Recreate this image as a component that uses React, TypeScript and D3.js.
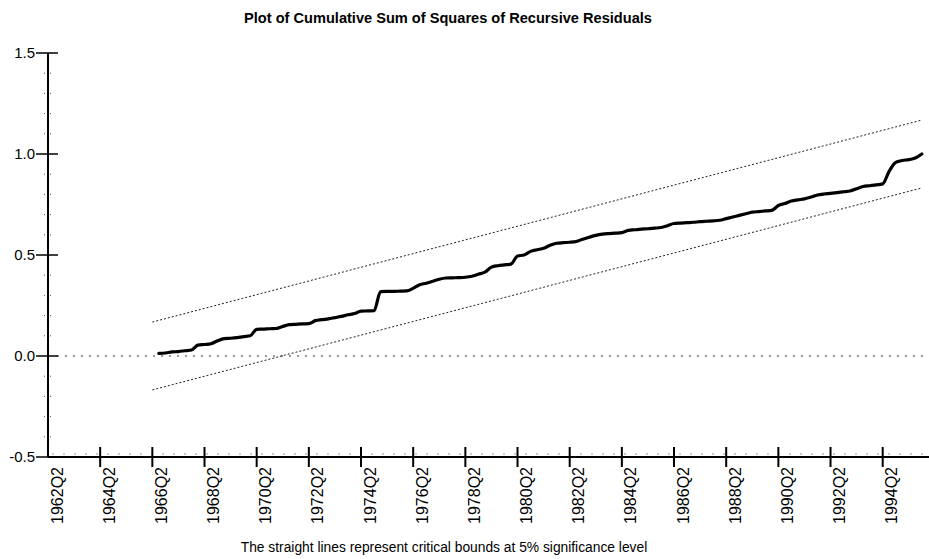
import React, { useEffect, useRef } from "react";
import * as d3 from "d3";

// quarterly tick labels on the x axis
const tickLabels = [
  "1962Q2", "1964Q2", "1966Q2", "1968Q2", "1970Q2", "1972Q2", "1974Q2", "1976Q2", "1978Q2",
  "1980Q2", "1982Q2", "1984Q2", "1986Q2", "1988Q2", "1990Q2", "1992Q2", "1994Q2",
];
const yTicks = [-0.5, 0.0, 0.5, 1.0, 1.5];

// cumulative sum of squares, one value per quarter starting 1966Q3
const seriesStart = "1966Q3";
const cusumsq = [
  0.013, 0.015, 0.02, 0.022, 0.026, 0.03, 0.054, 0.057, 0.061, 0.075, 0.086, 0.088, 0.091, 0.096, 0.1,
  0.132, 0.133, 0.135, 0.136, 0.146, 0.155, 0.157, 0.159, 0.16, 0.175, 0.18, 0.184, 0.19, 0.196, 0.204,
  0.21, 0.222, 0.223, 0.224, 0.319, 0.32, 0.32, 0.321, 0.322, 0.335, 0.353, 0.36, 0.37, 0.38, 0.386,
  0.387, 0.388, 0.39, 0.395, 0.405, 0.415, 0.44, 0.447, 0.451, 0.455, 0.495, 0.5, 0.518, 0.526, 0.533,
  0.548, 0.558, 0.561, 0.563, 0.567, 0.578, 0.588, 0.597, 0.603, 0.606, 0.608, 0.611, 0.622, 0.625,
  0.628, 0.63, 0.633, 0.636, 0.645, 0.656, 0.658, 0.66, 0.662, 0.665, 0.667, 0.669, 0.672, 0.68, 0.688,
  0.696, 0.704, 0.712, 0.715, 0.718, 0.721, 0.745, 0.755, 0.767, 0.773, 0.778, 0.787, 0.797, 0.802,
  0.805, 0.809, 0.813, 0.817, 0.828, 0.839, 0.843, 0.847, 0.852, 0.915, 0.958, 0.968, 0.972, 0.98, 1.0,
];

// 5% critical bounds (straight lines)
const boundDates = ["1966Q2", "1995Q4"];
const upperBound = [0.168, 1.168];
const lowerBound = [-0.168, 0.832];

const title = "Plot of Cumulative Sum of Squares of Recursive Residuals";
const footnote = "The straight lines represent critical bounds at 5% significance level";

const W = 929;
const H = 559;
const font = "'Liberation Sans', Arial, sans-serif";

// quarters since 1962Q2
const qIndex = (s: string) => {
  const year = +s.slice(0, 4);
  const q = +s.slice(5);
  return (year - 1962) * 4 + (q - 2);
};

const App = () => {
  const ref = useRef<SVGSVGElement>(null);

  useEffect(() => {
    const svg = d3.select(ref.current);
    svg.selectAll("*").remove();

    const x = d3.scaleLinear().domain([0, 135.1]).range([48, 929]);
    const y = d3.scaleLinear().domain([-0.5, 1.5]).range([457, 53]);

    // title
    svg
      .append("text")
      .attr("x", 448)
      .attr("y", 23)
      .attr("text-anchor", "middle")
      .style("font-family", font)
      .style("font-weight", "bold")
      .style("font-size", "14.6px")
      .text(title);

    // footnote
    svg
      .append("text")
      .attr("x", 444)
      .attr("y", 552)
      .attr("text-anchor", "middle")
      .style("font-family", font)
      .style("font-size", "13.8px")
      .text(footnote);

    // zero reference line
    svg
      .append("line")
      .attr("x1", 57)
      .attr("x2", W)
      .attr("y1", y(0))
      .attr("y2", y(0))
      .attr("stroke", "#333")
      .attr("stroke-width", 1)
      .attr("stroke-dasharray", "2,6");

    // faint dotted line just above the x axis
    svg
      .append("line")
      .attr("x1", 52)
      .attr("x2", W)
      .attr("y1", 454)
      .attr("y2", 454)
      .attr("stroke", "#999")
      .attr("stroke-width", 1)
      .attr("stroke-dasharray", "2,9");

    // y axis minor ticks
    const minor = d3.range(-4, 15).map((d) => d / 10).filter((d) => Math.abs(d * 2 - Math.round(d * 2)) > 1e-6);
    svg
      .append("g")
      .selectAll("line")
      .data(minor)
      .join("line")
      .attr("x1", 44)
      .attr("x2", 51)
      .attr("y1", (d) => y(d))
      .attr("y2", (d) => y(d))
      .attr("stroke", "#555")
      .attr("stroke-width", 1)
      .attr("stroke-dasharray", "1,2");

    // y axis major ticks + labels
    const ytk = svg.append("g");
    ytk
      .selectAll("line")
      .data(yTicks)
      .join("line")
      .attr("x1", 36)
      .attr("x2", (d) => (d === -0.5 ? 48 : 58))
      .attr("y1", (d) => y(d))
      .attr("y2", (d) => y(d))
      .attr("stroke", "#000")
      .attr("stroke-width", 1.5);
    ytk
      .selectAll("text")
      .data(yTicks)
      .join("text")
      .attr("x", 35)
      .attr("y", (d) => y(d))
      .attr("dy", "0.35em")
      .attr("text-anchor", "end")
      .style("font-family", font)
      .style("font-size", "15px")
      .text((d) => d.toFixed(1));

    // axis lines
    svg
      .append("line")
      .attr("x1", 48)
      .attr("x2", 48)
      .attr("y1", y(1.5))
      .attr("y2", y(-0.5))
      .attr("stroke", "#000")
      .attr("stroke-width", 2);
    svg
      .append("line")
      .attr("x1", 48)
      .attr("x2", W)
      .attr("y1", y(-0.5))
      .attr("y2", y(-0.5))
      .attr("stroke", "#000")
      .attr("stroke-width", 2);

    // x ticks + rotated labels
    const xtk = svg.append("g");
    xtk
      .selectAll("line")
      .data(tickLabels.slice(1))
      .join("line")
      .attr("x1", (d) => x(qIndex(d)))
      .attr("x2", (d) => x(qIndex(d)))
      .attr("y1", 447)
      .attr("y2", 467)
      .attr("stroke", "#000")
      .attr("stroke-width", 2);
    xtk
      .selectAll("text")
      .data(tickLabels)
      .join("text")
      .attr("transform", (d) => `translate(${x(qIndex(d)) + 9}, 467) rotate(-90)`)
      .attr("dy", "0.35em")
      .attr("text-anchor", "end")
      .style("font-family", font)
      .style("font-size", "16px")
      .text((d) => d);

    // critical bounds
    const bound = d3
      .line<number>()
      .x((d, i) => x(qIndex(boundDates[i])))
      .y((d) => y(d));
    [upperBound, lowerBound].forEach((b) => {
      svg
        .append("path")
        .attr("d", bound(b))
        .attr("fill", "none")
        .attr("stroke", "#222")
        .attr("stroke-width", 1)
        .attr("stroke-dasharray", "2,2");
    });

    // cusum of squares line
    const s0 = qIndex(seriesStart);
    const line = d3
      .line<number>()
      .x((d, i) => x(s0 + i))
      .y((d) => y(d))
      .curve(d3.curveMonotoneX);
    svg
      .append("path")
      .attr("d", line(cusumsq))
      .attr("fill", "none")
      .attr("stroke", "#000")
      .attr("stroke-width", 3.2)
      .attr("stroke-linejoin", "round")
      .attr("stroke-linecap", "round");
  }, []);

  return (
    <svg
      ref={ref}
      width={W}
      height={H}
      style={{ position: "absolute", left: 0, top: 0, background: "#fff" }}
    />
  );
};

export default App;
